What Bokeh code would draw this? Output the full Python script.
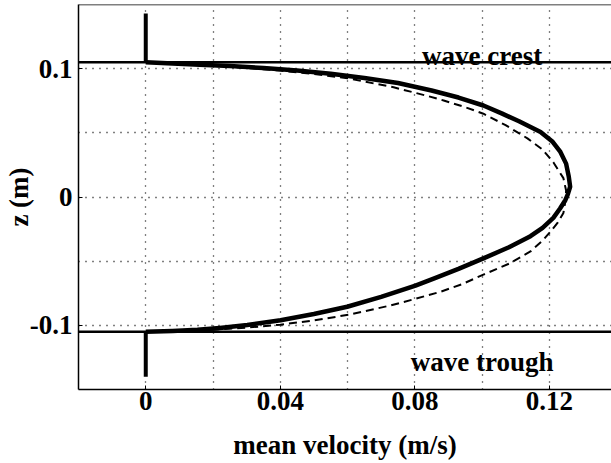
from bokeh.plotting import figure
from bokeh.models import FixedTicker, Span, Label
from bokeh.embed import file_html
from bokeh.resources import INLINE

# solid profile (mean velocity u, height z)
solid_u = [0.000, 0.008, 0.016, 0.025, 0.035, 0.045, 0.055, 0.065, 0.075, 0.085,
           0.093, 0.1004, 0.106, 0.111, 0.1174, 0.1210, 0.1233, 0.1250, 0.1258, 0.1262,
           0.1255, 0.1248, 0.1232, 0.1212, 0.1180, 0.1144, 0.108, 0.1004, 0.093, 0.086,
           0.0802, 0.070, 0.0599, 0.050, 0.0401, 0.0302, 0.0220, 0.0154, 0.008, 0.000]
solid_z = [0.1050, 0.1040, 0.1030, 0.1020, 0.1005, 0.0985, 0.0960, 0.0928, 0.0888, 0.0830,
           0.0775, 0.0713, 0.0650, 0.0590, 0.0506, 0.0430, 0.0351, 0.0260, 0.0158, 0.0080,
           0.0020, -0.0023, -0.0090, -0.0163, -0.0240, -0.0305, -0.0392, -0.0478, -0.0560, -0.0632,
           -0.0690, -0.0778, -0.0855, -0.0912, -0.0960, -0.0998, -0.1020, -0.1035, -0.1044, -0.1050]
# dashed profile
dash_u = [0.000, 0.010, 0.020, 0.030, 0.040, 0.050, 0.060, 0.0737, 0.0841, 0.0886,
          0.095, 0.1004, 0.107, 0.1135, 0.118, 0.1212, 0.1242, 0.1250, 0.1248, 0.1242,
          0.1225, 0.1204, 0.118, 0.1144, 0.108, 0.1004, 0.094, 0.0877, 0.0800, 0.0728,
          0.0609, 0.050, 0.040, 0.030, 0.020, 0.010, 0.000]
dash_z = [0.1050, 0.1035, 0.1022, 0.1005, 0.0985, 0.0958, 0.0925, 0.0855, 0.0785, 0.0752,
          0.0700, 0.0649, 0.0560, 0.0457, 0.0370, 0.0271, 0.0147, 0.0050, -0.0030, -0.0124,
          -0.0200, -0.0269, -0.0340, -0.0424, -0.0520, -0.0605, -0.0680, -0.0738, -0.0795, -0.0845,
          -0.0915, -0.0962, -0.0995, -0.1018, -0.1034, -0.1044, -0.1050]

crest_z = 0.105
trough_z = -0.105
stub_u = [0.0, 0.0]
stub_top_z = [0.105, 0.143]
stub_bot_z = [-0.105, -0.140]

x_ticks = [0.0, 0.04, 0.08, 0.12]
x_tick_labels = ["0", "0.04", "0.08", "0.12"]
y_ticks = [-0.1, 0.0, 0.1]
y_tick_labels = ["-0.1", "0", "0.1"]
x_grid = [0.0, 0.02, 0.04, 0.06, 0.08, 0.10, 0.12]
y_grid = [-0.1, -0.05, 0.0, 0.05, 0.1]

crest_label = "wave crest"
trough_label = "wave trough"
label_u = 0.1
crest_label_z = 0.110
trough_label_z = -0.1287

FONT = "Liberation Serif"
FSIZE = "27px"

p = figure(width=611, height=463, x_range=(-0.02, 0.1385), y_range=(-0.15, 0.15),
           output_backend="svg", toolbar_location=None,
           min_border_left=78, min_border_top=4, min_border_bottom=74, min_border_right=0)
p.outline_line_color = None
p.background_fill_color = "white"

for ax in (p.xaxis[0], p.yaxis[0]):
    ax.axis_line_color = "black"
    ax.axis_line_width = 1.5
    ax.major_tick_in = 4
    ax.major_tick_out = 0
    ax.minor_tick_line_color = None
    ax.major_tick_line_color = "black"
    ax.major_label_text_font = FONT
    ax.major_label_text_font_size = FSIZE
    ax.major_label_text_font_style = "bold"
    ax.major_label_text_color = "black"
    ax.axis_label_text_font = FONT
    ax.axis_label_text_font_size = FSIZE
    ax.axis_label_text_font_style = "bold"
    ax.axis_label_text_color = "black"

p.xaxis.ticker = FixedTicker(ticks=x_ticks)
p.yaxis.ticker = FixedTicker(ticks=y_ticks)
p.xaxis.major_label_overrides = {t: l for t, l in zip(x_ticks, x_tick_labels)}
p.yaxis.major_label_overrides = {t: l for t, l in zip(y_ticks, y_tick_labels)}
p.xaxis.axis_label = "mean velocity (m/s)"
p.yaxis.axis_label = "z (m)"
p.xaxis.major_label_standoff = 2
p.xaxis.axis_label_standoff = 17
p.yaxis.major_label_standoff = 6
p.yaxis.axis_label_standoff = -7

p.xgrid.ticker = FixedTicker(ticks=x_grid)
p.ygrid.ticker = FixedTicker(ticks=y_grid)
for g in (p.xgrid[0], p.ygrid[0]):
    g.grid_line_color = "black"
    g.grid_line_dash = "1 6"
    g.grid_line_width = 1.3

p.add_layout(Span(location=0.15, dimension="width", line_color="black", line_width=1.5))
p.add_layout(Span(location=crest_z, dimension="width", line_color="black", line_width=2.5))
p.add_layout(Span(location=trough_z, dimension="width", line_color="black", line_width=2.5))

p.line(stub_u, stub_top_z, line_color="black", line_width=4)
p.line(stub_u, stub_bot_z, line_color="black", line_width=4)
p.line(dash_u, dash_z, line_color="black", line_width=2, line_dash="8 5")
p.line(solid_u, solid_z, line_color="black", line_width=4.5, line_join="round")

p.add_layout(Label(x=label_u, y=crest_label_z, text=crest_label, text_align="center",
                   text_baseline="alphabetic", text_font=FONT, text_font_size=FSIZE,
                   text_font_style="bold", text_color="black"))
p.add_layout(Label(x=label_u, y=trough_label_z, text=trough_label, text_align="center",
                   text_baseline="alphabetic", text_font=FONT, text_font_size=FSIZE,
                   text_font_style="bold", text_color="black"))

open("out.html", "w").write(file_html(p, INLINE))
